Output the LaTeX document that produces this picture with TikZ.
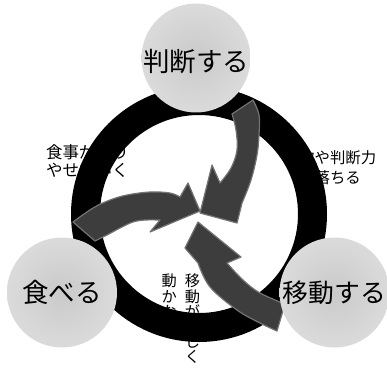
\documentclass[tikz,border=0pt]{standalone}
\usepackage{fontspec}
\newfontfamily\jp{Noto Sans CJK JP}
\usetikzlibrary{calc}
\definecolor{ballin}{gray}{0.79}
\definecolor{ballmid}{gray}{0.85}
\definecolor{ballout}{gray}{0.90}
\definecolor{ballrim}{gray}{0.93}
\definecolor{arrowfill}{gray}{0.24}
\definecolor{arrowedge}{gray}{0.45}
\pgfdeclareradialshading{ballgray}{\pgfpoint{0bp}{0bp}}{color(0bp)=(ballin); color(22bp)=(ballmid); color(46bp)=(ballout); color(50bp)=(ballrim); color(72bp)=(ballrim)}
\begin{document}
\begin{tikzpicture}[x=1pt,y=-1pt,
  ball/.style={circle, inner sep=0pt, minimum size=110pt, shading=ballgray, font=\jp\fontsize{26.5}{30}\selectfont},
  lab/.style={inner sep=0pt, font=\jp\fontsize{15.4}{19.5}\selectfont},
  vlab/.style={inner sep=0pt, align=center, font=\jp\fontsize{15.2}{15.2}\selectfont},
  ringline/.style={draw=black, line width=29pt},
  arrowbody/.style={fill=arrowfill, draw=arrowedge, line width=1.2pt, line join=round}]
\useasboundingbox (0,0) rectangle (387,376);
\clip (0,0) rectangle (387,376);
% labels (behind the ring)
\node[lab, anchor=west, align=left, font=\jp\fontsize{16.5}{18.5}\selectfont] (leftlab) at (46,160.8) {食事が減り\\やせていく};
\node[lab, align=center] (rightlab) at (330,167.8) {意欲や判断力\\が落ちる};
\node[vlab, anchor=north] (vright) at (192.5,274) {移\\動\\が\\難\\し\\く};
\node[vlab, anchor=north] (vleft) at (169.3,274) {動\\か\\な\\い};
% ring
\coordinate (C) at (199,214);
\draw[ringline] (C) circle (113.5);
% arrows
\filldraw[arrowbody] plot[smooth, tension=0.6] coordinates {(253,100) (259,115) (259,135) (257,155) (251,180) (242,203)} -- (237,223) -- (200,213) -- (212,165) -- plot[smooth, tension=0.6] coordinates {(220,183) (231,168) (237,150) (236,130) (232,114)} -- cycle;
\filldraw[arrowbody] plot[smooth, tension=0.6] coordinates {(73,222) (93,208) (110,200) (127,195) (150,192) (170,193) (180,197)} -- (188,183) -- (200,211) -- (150,232) -- plot[smooth, tension=0.6] coordinates {(160,220) (145,220) (133,222) (120,228) (107,235) (95,241)} -- cycle;
\filldraw[arrowbody] plot[smooth, tension=0.6] coordinates {(277,331) (260,323) (237,310) (210,287) (198,263)} -- (185,248) -- (198,222) -- (241,257) -- plot[smooth, tension=0.6] coordinates {(227,263) (243,280) (260,293) (285,304)} -- cycle;
% circles
\node[ball, minimum size=108pt, text height=27pt, text depth=0pt] (judge) at (196,58) {判断する};
\node[ball] (eat) at (62,292.5) {食べる};
\node[ball, font=\jp\fontsize{25.8}{30}\selectfont, xshift=-2.5pt] (move) at (337,292.5) {移動する};
\end{tikzpicture}
\end{document}
